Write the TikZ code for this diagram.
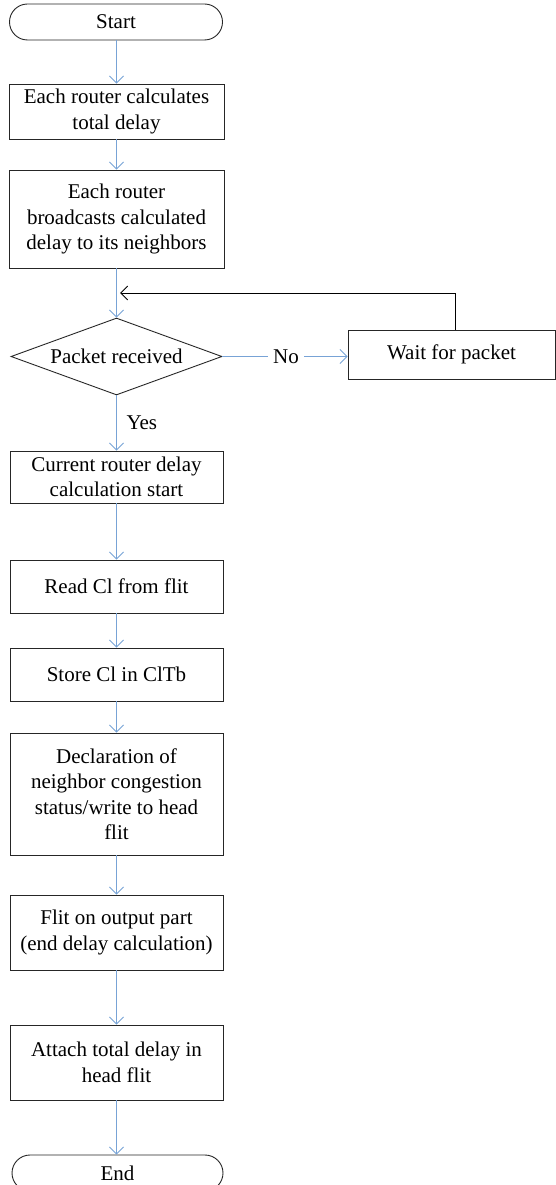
\documentclass[tikz,border=0pt]{standalone}
\usepackage{fontspec}
\setmainfont{Liberation Serif}
\usetikzlibrary{arrows.meta,shapes.geometric}
\definecolor{flowblue}{RGB}{120,163,214}
\begin{document}
\begin{tikzpicture}[x=1pt,y=1pt,
  every node/.style={font=\fontsize{21}{25.5}\selectfont},
  procbox/.style={draw=black!85,line width=0.9pt,rectangle,minimum width=213pt,inner sep=0pt,align=center},
  termbox/.style={draw=black!85,line width=0.9pt,rectangle,rounded corners=18pt,minimum width=213pt,minimum height=36pt,inner sep=0pt},
  decbox/.style={draw=black!85,line width=0.9pt,diamond,aspect=2.74,minimum width=211pt,minimum height=77pt,inner sep=0pt},
  flow/.style={draw=flowblue,line width=0.9pt,-{Straight Barb[length=7pt,width=14pt]}},
  flowline/.style={draw=flowblue,line width=0.9pt},
  back/.style={draw=black,line width=0.9pt,-{Straight Barb[length=7pt,width=14pt]}},
  tag/.style={inner xsep=5pt,inner ysep=2pt}]
\useasboundingbox (0,0) rectangle (556,-1185);

% main column
\node[termbox] (start) at (116,-22) {Start};
\node[procbox,minimum width=215pt,minimum height=55pt] (calc) at (116.5,-111.5) {Each router calculates\\total delay};
\node[procbox,minimum width=215pt,minimum height=98pt] (bcast) at (116.5,-219) {Each router\\broadcasts calculated\\delay to its neighbors};
\node[decbox] (recv) at (116.5,-356.5) {Packet received};
\node[procbox,minimum width=207pt,minimum height=49pt] (wait) at (451.5,-354.5) {Wait for packet};
\node[tag] (no) at (286,-356.5) {No};
\node[anchor=west] (yes) at (123,-423) {Yes};
\node[procbox,minimum height=52pt] (cur) at (116.5,-477) {Current router delay\\calculation start};
\node[procbox,minimum height=53pt] (read) at (116.5,-586.5) {Read Cl from flit};
\node[procbox,minimum height=53pt] (store) at (116.5,-674.5) {Store Cl in ClTb};
\node[procbox,minimum height=122pt] (decl) at (116.5,-794) {Declaration of\\neighbor congestion\\status/write to head\\flit};
\node[procbox,minimum height=75pt] (flit) at (116.5,-932.5) {Flit on output part\\(end delay calculation)};
\node[procbox,minimum height=75pt] (attach) at (116.5,-1062.5) {Attach total delay in\\head flit};
\node[termbox,minimum width=211pt] (end) at (117.5,-1173) {End};

% loop-back point on the line above the decision
\coordinate (join) at (120,-293);

% connectors
\draw[flow] (start.south -| calc.north) -- (calc.north);
\draw[flow] (calc) -- (bcast);
\draw[flow] (bcast.south) -- (recv.north);
\draw[flowline] (recv.east) -- (no.west);
\draw[flow] (no.east) -- (no.east -| wait.west);
\draw[back] ([xshift=3.5pt]wait.north) |- (join);
\draw[flow] (recv.south) -- (cur.north);
\draw[flow] (cur) -- (read);
\draw[flow] (read) -- (store);
\draw[flow] (store) -- (decl);
\draw[flow] (decl) -- (flit);
\draw[flow] (flit) -- (attach);
\draw[flow] (attach.south) -- (attach.south |- end.north);
\end{tikzpicture}
\end{document}
